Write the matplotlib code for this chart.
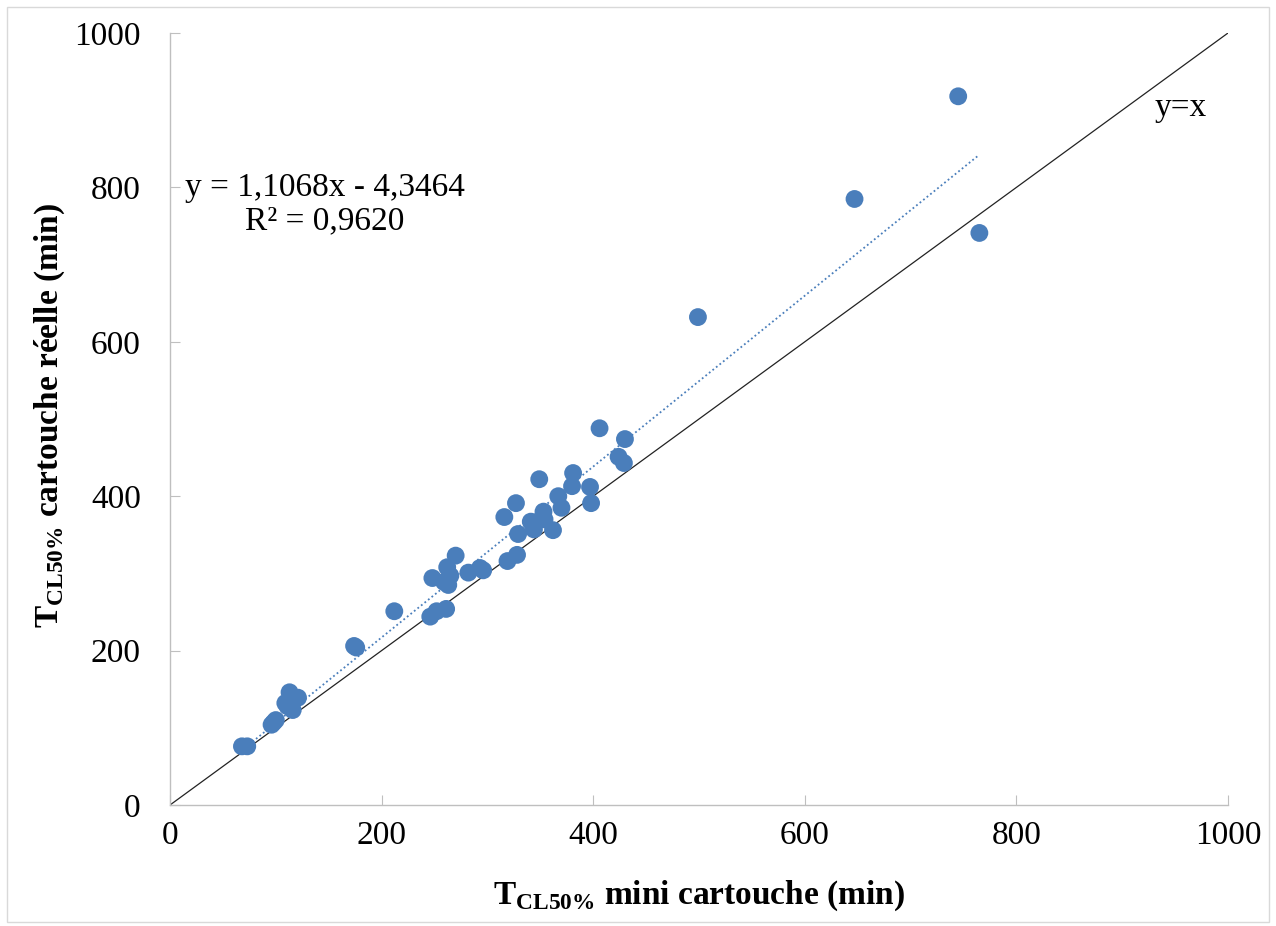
import numpy as np
import matplotlib.pyplot as plt
from matplotlib.patches import Rectangle

plt.rcParams['font.family'] = ['Liberation Serif', 'DejaVu Serif']
plt.rcParams['mathtext.fontset'] = 'custom'
plt.rcParams['mathtext.rm'] = 'Liberation Serif'
plt.rcParams['mathtext.bf'] = 'Liberation Serif:bold'

# T_CL50% values (min): mini cartridge vs real cartridge
t_mini = [68, 73, 96, 100, 98, 111, 113, 116, 121, 109,
          174, 176, 212, 246, 248, 252, 261, 259, 262, 263,
          265, 270, 282, 293, 296, 316, 319, 327, 328, 329,
          341, 344, 349, 353, 354, 362, 367, 370, 380, 381,
          397, 398, 406, 424, 429, 430, 499, 647, 745, 765]
t_reelle = [76, 76, 104, 110, 107, 128, 146, 123, 139, 132,
            206, 204, 251, 244, 294, 251, 254, 289, 308, 285,
            297, 323, 301, 307, 304, 373, 316, 391, 324, 351,
            367, 357, 422, 380, 370, 356, 400, 385, 413, 430,
            412, 391, 488, 451, 443, 474, 632, 785, 918, 741]

slope, intercept = 1.1068, -4.3464
r2 = 0.9620

blue = '#4A7EBB'

fig = plt.figure(figsize=(12.76, 9.26), dpi=100)
ax = fig.add_axes([170 / 1276, 1 - 805 / 926, 1058 / 1276, 772 / 926])

ax.scatter(t_mini, t_reelle, s=165, color=blue, edgecolors='none', zorder=3)

# linear trend over the data range
xs = np.array([min(t_mini), max(t_mini)])
ax.plot(xs, slope * xs + intercept, color=blue, lw=1.3, ls=(0, (1, 1.5)), zorder=2)

# identity line
ax.plot([0, 1000], [0, 1000], color='#222222', lw=0.9, zorder=2)

ax.text(146, 778, 'y = 1,1068x - 4,3464\nR² = 0,9620', ha='center', va='center',
        fontsize=24, linespacing=1.1, multialignment='center')
ax.text(955, 903, 'y=x', ha='center', va='center', fontsize=24)

ax.set_xlim(0, 1000)
ax.set_ylim(0, 1000)
ax.set_xticks(range(0, 1001, 200))
ax.set_yticks(range(0, 1001, 200))
ax.tick_params(direction='in', length=7, width=0.8, color='#bfbfbf',
               labelsize=24)
ax.tick_params(axis='x', pad=11)
ax.tick_params(axis='y', pad=21)

for side in ('top', 'right'):
    ax.spines[side].set_visible(False)
for side in ('left', 'bottom'):
    ax.spines[side].set_color('#bfbfbf')
    ax.spines[side].set_linewidth(1.0)

ax.set_xlabel(r'$\mathbf{T}_{\mathbf{CL50\%}}$ mini cartouche (min)',
              fontsize=24, fontweight='bold')
ax.set_ylabel(r'$\mathbf{T}_{\mathbf{CL50\%}}$ cartouche réelle (min)',
              fontsize=24, fontweight='bold')
ax.xaxis.set_label_coords(0.5, -0.095)
ax.yaxis.set_label_coords(-0.097, 0.505)

# chart area border
fig.patches.append(Rectangle((7 / 1276, 4 / 926), 1262 / 1276, 915 / 926,
                             transform=fig.transFigure, fill=False,
                             edgecolor='#d9d9d9', lw=1.0))

fig.savefig('out.png', dpi=100)
